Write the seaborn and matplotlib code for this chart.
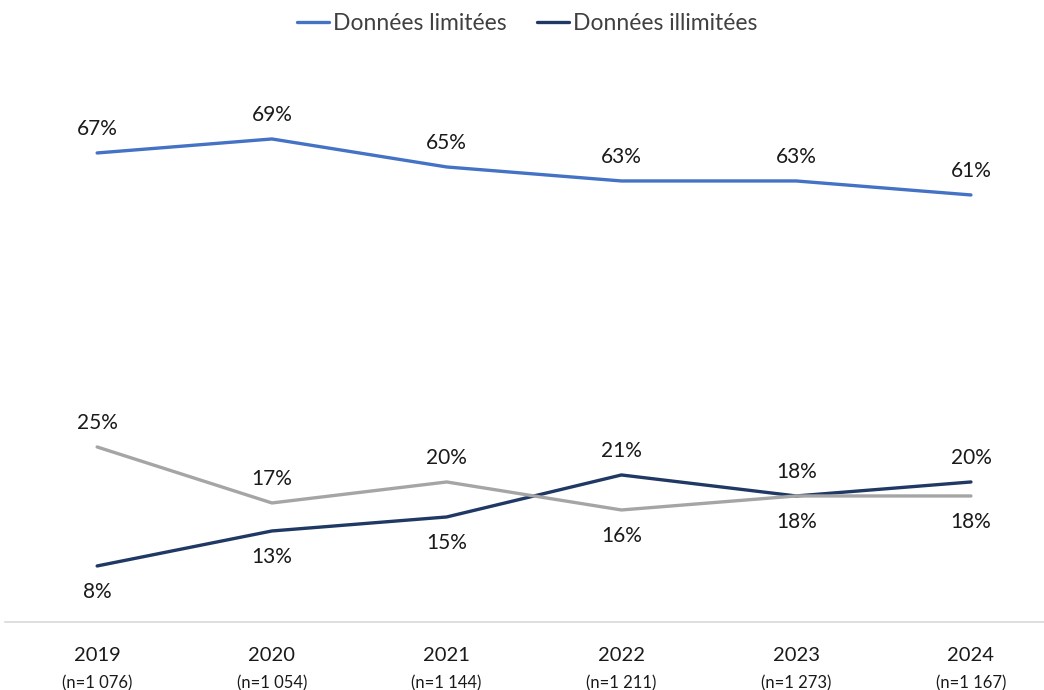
import matplotlib
matplotlib.use("Agg")
import matplotlib.pyplot as plt
import matplotlib.transforms as mtransforms
import seaborn as sns
import pandas as pd

years = ["2019", "2020", "2021", "2022", "2023", "2024"]
sample_sizes = ["(n=1 076)", "(n=1 054)", "(n=1 144)", "(n=1 211)", "(n=1 273)", "(n=1 167)"]
limited = [67, 69, 65, 63, 63, 61]
unlimited = [8, 13, 15, 21, 18, 20]
no_data = [25, 17, 20, 16, 18, 18]

series_names = ["Données limitées", "Données illimitées", "Aucune donnée"]
colors = {"Données limitées": "#4472C4", "Données illimitées": "#203864", "Aucune donnée": "#A5A5A5"}
# label placement per point: +1 above the line, -1 below
label_side = {
    "Données limitées": [1, 1, 1, 1, 1, 1],
    "Données illimitées": [-1, -1, -1, 1, 1, 1],
    "Aucune donnée": [1, 1, 1, -1, -1, -1],
}

rows = []
for name, vals in zip(series_names, [limited, unlimited, no_data]):
    for i, v in enumerate(vals):
        rows.append({"idx": i, "value": v, "series": name})
df = pd.DataFrame(rows)

sns.set_theme(style="white")
plt.rcParams["font.family"] = ["Lato", "DejaVu Sans"]

fig = plt.figure(figsize=(10.44, 6.9), dpi=100)
ax = fig.add_axes([0.005, 0.0986, 0.995, 0.8116])

sns.lineplot(data=df, x="idx", y="value", hue="series", hue_order=series_names,
             palette=colors, linewidth=2.4, ax=ax, legend=False, sort=False)

for name, vals in zip(series_names, [limited, unlimited, no_data]):
    for i, v in enumerate(vals):
        side = label_side[name][i]
        offset = 17.5 if side > 0 else 19
        ax.annotate(f"{v}%", (i, v), xytext=(0, offset * side), textcoords="offset points",
                    ha="center", va="center", fontsize=15, color="#1a1a1a")

ax.set_xlim(-0.526, 5.418)
ax.set_ylim(0, 80)
ax.set_xticks(range(len(years)))
ax.set_xticklabels(years, fontsize=14.5, color="#1a1a1a")
ax.tick_params(axis="x", length=0, pad=18)
ax.set_yticks([])
ax.set_xlabel("")
ax.set_ylabel("")
for s in ["top", "right", "left"]:
    ax.spines[s].set_visible(False)
ax.spines["bottom"].set_color("#D9D9D9")
ax.spines["bottom"].set_linewidth(1.2)

trans = mtransforms.blended_transform_factory(ax.transData, ax.transAxes)
for i, n in enumerate(sample_sizes):
    ax.annotate(n, (i, 0), xycoords=trans, xytext=(0, -44), textcoords="offset points",
                ha="center", va="center", fontsize=12, color="#1a1a1a")

handles = [plt.Line2D([], [], color=colors[n], linewidth=2.4) for n in series_names[:2]]
fig.legend(handles, series_names[:2], loc="center", bbox_to_anchor=(0.505, 0.966), ncol=2,
           frameon=False, fontsize=16.5, handlelength=1.4, handletextpad=0.2,
           columnspacing=1.3, labelcolor="#404040")

fig.savefig("out.png", dpi=100)
